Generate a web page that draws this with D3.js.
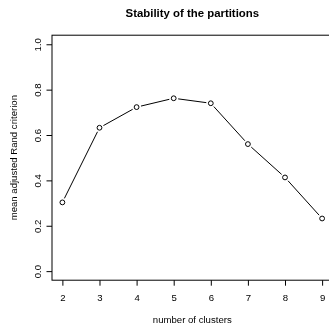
<!DOCTYPE html>
<html><head><meta charset="utf-8">
<script src="https://cdn.jsdelivr.net/npm/d3@7"></script>
<style>body{margin:0;background:#fff}svg{display:block;will-change:transform}text{font-family:"Liberation Sans",Arial,Helvetica,sans-serif;fill:#000}</style>
</head><body>
<script>
const clusters = [2,3,4,5,6,7,8,9];
const meanARI = [0.303,0.632,0.723,0.762,0.740,0.560,0.413,0.232];
const yTicks = [0.0,0.2,0.4,0.6,0.8,1.0];
const xTicks = [2,3,4,5,6,7,8,9];

const W=329,H=325,FS=9.6;
const svg=d3.select("body").append("svg").attr("width",W).attr("height",H);
const x=d3.scaleLinear().domain([1.72,9.28]).range([52,332.5]);
const y=d3.scaleLinear().domain([-0.04,1.04]).range([280.2,35.2]);

// box
svg.append("rect").attr("x",x.range()[0]).attr("y",y.range()[1])
  .attr("width",x.range()[1]-x.range()[0]).attr("height",y.range()[0]-y.range()[1])
  .attr("fill","none").attr("stroke","#000").attr("stroke-width",1);

// x axis
const xa=svg.append("g").attr("transform",`translate(0,${y.range()[0]})`)
  .call(d3.axisBottom(x).tickValues(xTicks).tickSize(5.5).tickFormat(d3.format("d")));
xa.select(".domain").remove();
xa.selectAll(".tick text").attr("font-size",FS).attr("font-family",null)
  .attr("dy",null).attr("y",21.3);

// y axis
const ya=svg.append("g").attr("transform",`translate(${x.range()[0]},0)`)
  .call(d3.axisLeft(y).tickValues(yTicks).tickSize(5.5).tickFormat(d3.format(".1f")));
ya.select(".domain").remove();
ya.selectAll(".tick text").attr("font-size",FS).attr("font-family",null)
  .attr("text-anchor","middle").attr("dy",null).attr("x",0).attr("y",0)
  .attr("transform","translate(-11.5,0) rotate(-90)");

// lines with gaps (type="b")
const pts=clusters.map((c,i)=>[x(c),y(meanARI[i])]);
const gap=4.5;
for(let i=0;i<pts.length-1;i++){
  const [x1,y1]=pts[i],[x2,y2]=pts[i+1];
  const dx=x2-x1,dy=y2-y1,L=Math.hypot(dx,dy);
  const ux=dx/L,uy=dy/L;
  svg.append("line").attr("x1",x1+ux*gap).attr("y1",y1+uy*gap)
    .attr("x2",x2-ux*gap).attr("y2",y2-uy*gap).attr("stroke","#000").attr("stroke-width",1);
}
svg.selectAll("circle.pt").data(clusters).enter().append("circle")
  .attr("cx",(d)=>x(d)).attr("cy",(d,i)=>y(meanARI[i])).attr("r",2.4)
  .attr("fill","none").attr("stroke","#000").attr("stroke-width",1);

// titles
svg.append("text").attr("x",192.3).attr("y",16.8).attr("text-anchor","middle")
  .attr("font-size",11.4).attr("font-weight","bold").text("Stability of the partitions");
svg.append("text").attr("x",192.3).attr("y",323).attr("text-anchor","middle")
  .attr("font-size",FS).text("number of clusters");
svg.append("text").attr("transform","translate(16.5,157.7) rotate(-90)").attr("text-anchor","middle")
  .attr("font-size",FS).text("mean adjusted Rand criterion");
</script>
</body></html>
